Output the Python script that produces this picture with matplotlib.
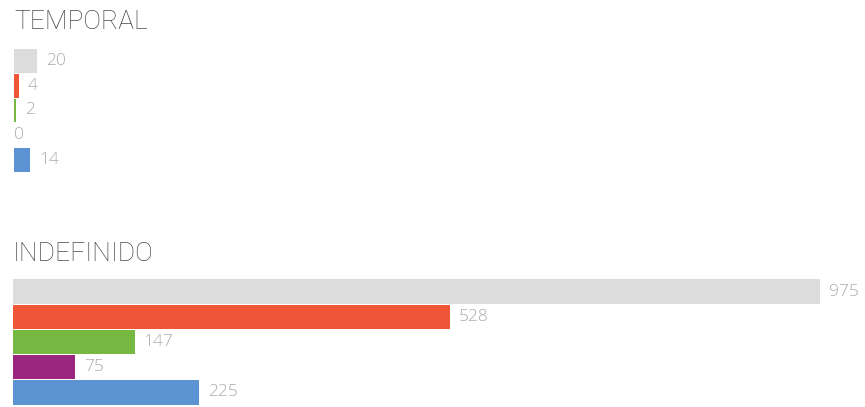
import matplotlib
matplotlib.use("Agg")
import matplotlib.pyplot as plt
from matplotlib import font_manager

groups = ["TEMPORAL", "INDEFINIDO"]
temporal_values = [20, 4, 2, 0, 14]
indefinido_values = [975, 528, 147, 75, 225]
colors = ["#dcdcdc", "#ef5537", "#77b843", "#9a267e", "#5b93d3"]

W, H = 865, 407
fig = plt.figure(figsize=(W / 100, H / 100), dpi=100)

def has_font(name):
    try:
        font_manager.findfont(name, fallback_to_default=False)
        return True
    except Exception:
        return False

title_font = "Roboto" if has_font("Roboto") else "DejaVu Sans"
label_font = "Open Sans" if has_font("Open Sans") else "DejaVu Sans"

def px_axes(left, top, width, height):
    return fig.add_axes([left / W, 1 - (top + height) / H, width / W, height / H])

def draw_group(title, values, left, top, row_h, xmax, title_y):
    fig.text(left / W, 1 - title_y / H, title, fontsize=19, family=title_font,
             fontweight="light", fontstretch="condensed",
             color="#4a4a4a", va="baseline", ha="left")
    n = len(values)
    ax = px_axes(left, top, W - left, row_h * n)
    ypos = list(range(n))
    ax.barh(ypos, values, height=0.97, color=colors, edgecolor="none")
    ax.set_ylim(n - 0.5, -0.5)
    ax.set_xlim(0, xmax)
    for y, v in zip(ypos, values):
        ax.annotate(str(v), xy=(v, y), xytext=(6.5 if v else 0, 0),
                    textcoords="offset points",
                    va="center", ha="left", fontsize=12.5, color="#acacac",
                    family=label_font, fontweight="light")
    ax.axis("off")
    return ax

draw_group(groups[0], temporal_values, 14, 49, 24.6, 20 * 851 / 23, 29)
draw_group(groups[1], indefinido_values, 13, 279, 25.2, 975 * 852 / 807, 261)

fig.savefig("out.png", dpi=100, facecolor="white")
